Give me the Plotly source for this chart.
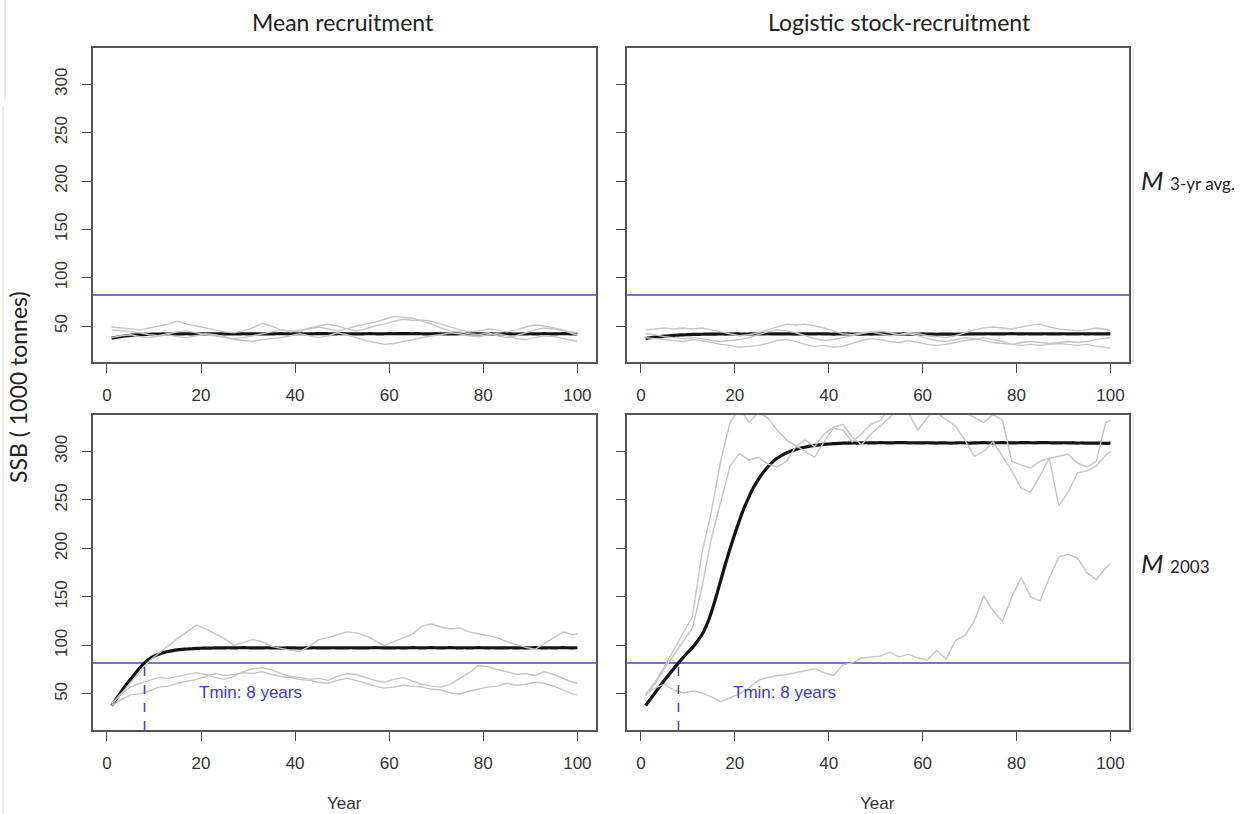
import plotly.graph_objects as go

# ---------------- data ----------------
YEARS = list(range(1, 101))                      # yearly axis for the mean trajectories
G_YEARS = list(range(1, 100, 2)) + [100]         # sampled years for individual simulations

BLIM = 82        # reference SSB level (1000 t)
TMIN = 8         # years to reach BLIM
Y_RANGE = [12.8, 337.6]
X_RANGE = [-2.96, 103.96]
X_TICKS = [0, 20, 40, 60, 80, 100]
Y_TICKS = [50, 100, 150, 200, 250, 300]

COL_TITLES = ["Mean recruitment", "Logistic stock-recruitment"]
ROW_LABELS = ["3-yr avg.", "2003"]

# Mean recruitment, M 3-yr avg.
TL_MEAN = [37.5, 38.3, 39.1, 39.8, 40.4, 40.8, 41.1, 41.3, 41.5, 41.6,
           41.7, 41.8, 41.7, 41.9, 41.8, 41.9, 42.0, 41.8, 41.9, 42.0,
           41.9, 41.8, 41.9, 42.0, 41.9, 41.8, 41.9, 41.9, 42.0, 41.9,
           41.8, 41.9, 41.9, 41.8, 41.9, 42.0, 42.1, 42.0, 41.9, 42.0,
           42.1, 42.0, 41.9, 42.0, 42.1, 42.2, 42.0, 41.9, 42.0, 42.1,
           42.0, 41.9, 41.8, 41.9, 42.0, 42.1, 42.0, 41.9, 42.0, 42.1,
           42.0, 42.1, 42.2, 42.1, 42.0, 42.1, 42.0, 41.9, 42.0, 42.1,
           42.0, 41.9, 41.8, 41.9, 42.0, 42.0, 41.9, 41.8, 41.9, 42.0,
           41.9, 41.8, 41.7, 41.8, 41.9, 41.8, 41.7, 41.8, 41.9, 42.0,
           41.9, 42.0, 42.1, 42.0, 41.9, 42.0, 42.1, 42.0, 41.9, 41.8]
TL_G1 = [49, 48, 47, 46, 48, 50, 52, 55, 52, 50, 48, 46, 44, 43, 45, 48, 53, 50, 46, 44,
         46, 47, 49, 47, 45, 47, 50, 52, 54, 57, 60, 59, 58, 55, 52, 48, 45, 44, 42, 41,
         43, 40, 38, 40, 43, 46, 48, 47, 45, 44, 43]
TL_G2 = [46, 45, 44, 43, 41, 40, 42, 44, 45, 43, 41, 40, 38, 37, 38, 40, 42, 44, 46, 45,
         44, 48, 50, 52, 50, 47, 45, 47, 50, 52, 55, 57, 56, 56, 55, 52, 49, 46, 44, 45,
         47, 46, 44, 46, 49, 51, 50, 48, 46, 42, 41]
TL_G3 = [38, 40, 41, 39, 38, 40, 41, 39, 38, 40, 42, 41, 39, 36, 35, 34, 36, 37, 38, 40,
         42, 40, 38, 40, 43, 41, 38, 35, 33, 31, 32, 34, 36, 38, 40, 41, 43, 42, 40, 39,
         41, 42, 40, 37, 36, 38, 40, 39, 37, 35, 34]

# Logistic stock-recruitment, M 3-yr avg.
TR_MEAN = [37.3, 37.9, 38.5, 39.0, 39.5, 39.9, 40.3, 40.6, 40.9, 41.1,
           41.3, 41.4, 41.5, 41.6, 41.7, 41.7, 41.8, 41.7, 41.8, 41.9,
           41.8, 41.7, 41.8, 41.9, 41.8, 41.9, 42.0, 41.9, 41.8, 41.9,
           41.9, 41.8, 41.7, 41.8, 41.9, 41.8, 41.9, 42.0, 41.9, 41.8,
           41.7, 41.8, 41.9, 41.8, 41.7, 41.6, 41.7, 41.8, 41.7, 41.8,
           41.9, 41.8, 41.7, 41.6, 41.7, 41.8, 41.7, 41.6, 41.7, 41.8,
           41.7, 41.6, 41.5, 41.6, 41.7, 41.6, 41.5, 41.6, 41.7, 41.8,
           41.9, 41.8, 41.9, 42.0, 41.9, 41.8, 41.9, 42.0, 42.1, 42.0,
           41.9, 42.0, 41.9, 41.8, 41.9, 42.0, 41.9, 41.8, 41.9, 42.0,
           41.9, 41.8, 41.9, 42.0, 41.9, 42.0, 41.9, 41.8, 41.9, 41.9]
TR_G1 = [46, 47, 48, 47, 48, 47, 48, 46, 44, 42, 40, 41, 43, 46, 49, 52, 51, 52, 50, 48,
         45, 42, 41, 43, 44, 42, 40, 41, 43, 42, 40, 39, 38, 40, 43, 46, 48, 49, 48, 47,
         49, 51, 52, 49, 47, 46, 45, 46, 48, 47, 45]
TR_G2 = [42, 41, 39, 38, 37, 38, 37, 35, 34, 35, 36, 38, 41, 44, 46, 45, 43, 40, 37, 35,
         36, 38, 40, 42, 44, 45, 43, 41, 42, 40, 37, 35, 34, 36, 38, 37, 35, 33, 32, 31,
         33, 34, 33, 32, 33, 34, 33, 34, 36, 37, 38]
TR_G3 = [38, 37, 36, 35, 34, 36, 35, 33, 31, 30, 28, 29, 30, 32, 35, 36, 34, 31, 29, 30,
         28, 29, 32, 35, 37, 36, 34, 33, 35, 33, 31, 30, 31, 33, 35, 36, 38, 36, 34, 31,
         30, 31, 30, 31, 32, 31, 30, 31, 29, 28, 27]

# Mean recruitment, M 2003
BL_MEAN = [38, 45, 52, 59, 65, 71, 77, 82, 86, 89,
           91, 92.6, 93.8, 94.7, 95.4, 95.9, 96.3, 96.6, 96.9, 97.1,
           97.2, 97.3, 97.4, 97.5, 97.5, 97.6, 97.5, 97.6, 97.7, 97.6,
           97.5, 97.4, 97.5, 97.6, 97.5, 97.4, 97.3, 97.4, 97.5, 97.4,
           97.3, 97.4, 97.5, 97.6, 97.5, 97.4, 97.5, 97.6, 97.5, 97.4,
           97.5, 97.6, 97.5, 97.4, 97.5, 97.6, 97.7, 97.6, 97.5, 97.4,
           97.5, 97.6, 97.5, 97.6, 97.7, 97.6, 97.5, 97.6, 97.7, 97.6,
           97.5, 97.6, 97.7, 97.6, 97.5, 97.6, 97.5, 97.6, 97.7, 97.6,
           97.5, 97.6, 97.5, 97.4, 97.5, 97.6, 97.5, 97.6, 97.5, 97.6,
           97.7, 97.6, 97.5, 97.6, 97.5, 97.6, 97.7, 97.6, 97.5, 97.6]
BL_G1 = [39, 50, 62, 73, 84, 92, 100, 107, 114, 121, 117, 112, 107, 100, 103, 106, 104, 99, 97, 95,
         94, 99, 106, 108, 111, 114, 113, 110, 105, 100, 104, 108, 112, 120, 122, 119, 117, 118, 114, 112,
         110, 108, 104, 101, 98, 96, 102, 108, 114, 111, 112]
BL_G2 = [40, 50, 57, 61, 64, 67, 66, 68, 70, 72, 70, 67, 65, 68, 73, 76, 77, 75, 71, 68,
         67, 65, 66, 64, 68, 71, 70, 67, 64, 62, 65, 67, 63, 60, 58, 57, 60, 66, 72, 79,
         78, 75, 73, 70, 71, 69, 73, 70, 66, 62, 61]
BL_G3 = [38, 44, 49, 50, 53, 57, 58, 61, 63, 65, 68, 71, 69, 70, 72, 71, 73, 70, 68, 67,
         65, 64, 62, 61, 64, 66, 64, 61, 58, 56, 57, 59, 58, 57, 55, 54, 51, 50, 53, 55,
         57, 58, 61, 59, 60, 62, 61, 58, 54, 50, 49]

# Logistic stock-recruitment, M 2003
BR_MEAN = [38, 44.5, 51, 57.5, 64, 70, 76, 82, 87.5, 93,
           98, 104, 111, 121, 134, 150, 167, 184, 200, 215,
           229, 242, 253, 263, 271, 278, 284, 289, 293, 296,
           298.5, 300.5, 302, 303.5, 304.5, 305.5, 306.2, 306.8, 307.3, 307.7,
           308, 308.3, 308.5, 308.6, 308.8, 308.7, 308.9, 309.0, 308.8, 308.9,
           309.1, 309.0, 308.8, 309.0, 309.2, 309.1, 308.9, 309.0, 308.8, 308.9,
           309.0, 308.8, 308.7, 308.9, 308.8, 308.6, 308.8, 309.0, 308.9, 308.7,
           308.8, 309.0, 309.1, 308.9, 308.8, 309.0, 309.1, 309.0, 308.8, 308.9,
           309.1, 309.2, 309.0, 308.9, 309.1, 309.2, 309.0, 308.9, 308.8, 309.0,
           308.9, 308.8, 308.7, 308.8, 308.6, 308.7, 308.5, 308.6, 308.4, 308.5]
BR_G1 = [50, 62, 78, 95, 112, 130, 195, 238, 290, 330, 345, 330, 340, 335, 322, 312, 306, 300, 294, 310,
         324, 322, 310, 318, 328, 332, 345, 350, 355, 350, 345, 340, 333, 326, 312, 295, 300, 310, 295, 280,
         262, 258, 275, 293, 244, 258, 278, 280, 285, 296, 300]
BR_G2 = [48, 60, 76, 90, 105, 118, 160, 210, 248, 285, 298, 291, 294, 287, 284, 290, 305, 312, 305, 318,
         325, 328, 315, 307, 318, 326, 335, 345, 340, 322, 335, 345, 350, 345, 340, 335, 330, 338, 332, 290,
         286, 283, 290, 293, 295, 297, 288, 284, 290, 330, 332]
BR_G3 = [50, 56, 60, 54, 51, 53, 51, 47, 42, 46, 50, 56, 64, 67, 69, 70, 72, 74, 76, 72,
         69, 80, 82, 87, 88, 89, 93, 88, 91, 87, 85, 95, 86, 105, 110, 125, 151, 136, 125, 150,
         170, 150, 146, 170, 191, 194, 190, 175, 168, 180, 184]

PANELS = [
    (TL_MEAN, [TL_G1, TL_G2, TL_G3], False),
    (TR_MEAN, [TR_G1, TR_G2, TR_G3], False),
    (BL_MEAN, [BL_G1, BL_G2, BL_G3], True),
    (BR_MEAN, [BR_G1, BR_G2, BR_G3], True),
]

# ---------------- styling ----------------
W, H = 1252, 814
GREY = "#c6c6c6"
BLACK = "#141414"
BLUE = "#4646d2"
BLUE_TXT = "#3c3cc8"
TICK_FONT = dict(family="Liberation Sans, Arial, sans-serif", size=17, color="#333333")
LABEL_FAMILY = "Lato, Open Sans, sans-serif"

# plot boxes in pixels: (left, right) columns and (top, bottom) rows
COLS_PX = [(93, 596), (627, 1129)]
ROWS_PX = [(48, 362), (415, 730)]


def px_x(v):
    return v / W


def px_y(v):
    return 1 - v / H


fig = go.Figure()
layout = {}

for i, (mean, sims, lower_row) in enumerate(PANELS):
    n = i + 1
    suffix = "" if n == 1 else str(n)
    row, col = divmod(i, 2)
    xa, ya = f"x{suffix}", f"y{suffix}"

    fig.add_trace(go.Scatter(x=YEARS, y=mean, xaxis=xa, yaxis=ya, mode="lines",
                             line=dict(color=BLACK, width=3.2, shape="spline", smoothing=0.6),
                             hoverinfo="skip"))
    for s in sims:
        fig.add_trace(go.Scatter(x=G_YEARS, y=s, xaxis=xa, yaxis=ya, mode="lines",
                                 line=dict(color=GREY, width=1.4), hoverinfo="skip"))

    l, r = COLS_PX[col]
    t, b = ROWS_PX[row]
    layout[f"xaxis{suffix}"] = dict(
        domain=[px_x(l), px_x(r)], anchor=ya, range=X_RANGE, tickvals=X_TICKS,
        ticks="outside", ticklen=9, tickwidth=1.3, tickcolor="#444444",
        showline=True, linecolor="#555555", linewidth=1.6, mirror=True,
        showgrid=False, zeroline=False, tickfont=TICK_FONT, ticklabelstandoff=8,
    )
    layout[f"yaxis{suffix}"] = dict(
        domain=[px_y(b), px_y(t)], anchor=xa, range=Y_RANGE, tickvals=Y_TICKS,
        ticks="outside", ticklen=9, tickwidth=1.3, tickcolor="#444444",
        showline=True, linecolor="#555555", linewidth=1.6, mirror=True,
        showgrid=False, zeroline=False, tickfont=TICK_FONT, tickangle=-90,
        showticklabels=(col == 0), ticklabelstandoff=8,
    )

    # reference level
    fig.add_shape(type="line", xref=f"{xa} domain", yref=ya, x0=0, x1=1, y0=BLIM, y1=BLIM,
                  line=dict(color=BLUE, width=1.5), layer="below")

    if lower_row:
        fig.add_shape(type="line", xref=xa, yref=ya, x0=TMIN, x1=TMIN, y0=Y_RANGE[0], y1=BLIM,
                      line=dict(color=BLUE, width=1.6, dash="dash"))
        fig.add_annotation(xref=xa, yref=ya, x=30.5, y=51, text=f"Tmin: {TMIN} years",
                           showarrow=False, xanchor="center", yanchor="middle",
                           font=dict(family=TICK_FONT["family"], size=17, color=BLUE_TXT))
        fig.add_annotation(xref="paper", yref="paper", x=px_x((l + r) / 2), y=px_y(803),
                           text="Year", showarrow=False, xanchor="center", yanchor="middle",
                           font=dict(family=TICK_FONT["family"], size=17, color="#333333"))

# column titles
for title, cx in zip(COL_TITLES, [343, 899]):
    fig.add_annotation(xref="paper", yref="paper", x=px_x(cx), y=px_y(22), text=title,
                       showarrow=False, xanchor="center", yanchor="middle",
                       font=dict(family=LABEL_FAMILY, size=23, color="#222222"))

# row labels
for lab, cy in zip(ROW_LABELS, [180, 563]):
    fig.add_annotation(xref="paper", yref="paper", x=px_x(1139), y=px_y(cy),
                       xanchor="left", yanchor="middle",
                       text=f"<i>M</i> <span style='font-size:17px'>{lab}</span>",
                       showarrow=False, font=dict(family=LABEL_FAMILY, size=26, color="#222222"))

# shared y-axis label
fig.add_annotation(xref="paper", yref="paper", x=px_x(18), y=px_y(387), textangle=-90,
                   xanchor="center", yanchor="middle",
                   text="SSB ( 1000 tonnes)", showarrow=False,
                   font=dict(family=LABEL_FAMILY, size=23, color="#222222"))

# faint frame edges of the assembled figure
EDGE = dict(color="#d8d8d8", width=1)
for x0, y0, y1 in [(5, 0, 100), (3, 107, 814), (1133, 48, 362), (1133, 415, 730)]:
    fig.add_shape(type="line", xref="paper", yref="paper", x0=px_x(x0), x1=px_x(x0),
                  y0=px_y(y0), y1=px_y(y1), line=EDGE)

fig.update_layout(
    width=W, height=H, margin=dict(l=0, r=0, t=0, b=0),
    paper_bgcolor="white", plot_bgcolor="white", showlegend=False,
    **layout,
)

fig.write_html("out.html")
